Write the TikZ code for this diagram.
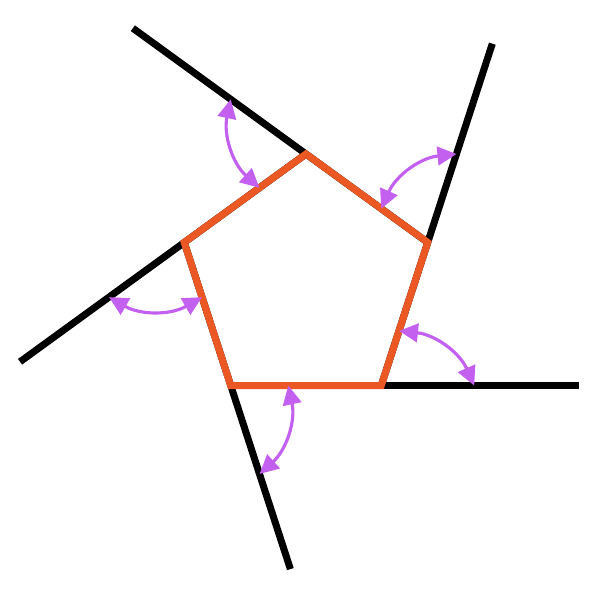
\documentclass[tikz,border=0pt]{standalone}
\usepackage{tikz}
\usetikzlibrary{calc,arrows.meta}
\definecolor{sideorange}{RGB}{236,88,36}
\definecolor{anglepurple}{RGB}{196,96,240}
\tikzstyle{extline} = [line width=4pt, black]
\tikzstyle{side} = [line width=4pt, sideorange, line join=miter]
\tikzstyle{extangle} = [line width=1.8pt, anglepurple, >={Triangle[length=3.8mm,width=3.7mm]}, <->, bend right=30]

\begin{document}
\begin{tikzpicture}
		\useasboundingbox (-6.12,-6.36) rectangle (5.88,5.64);
		\foreach \i in {0,...,4}
			\coordinate (v\i) at (162+72*\i:2.56);
		% sides carried on past each corner
		\foreach \i/\j/\len in {0/1/3.86,1/2/3.96,2/3/4.18,3/4/4.28,4/0/4.06} {
			\coordinate (e\j) at ($(v\j)!-\len cm!(v\i)$);
			\draw[extline] (v\i) -- (e\j);
		}
		\draw[side] (v0) -- (v1) -- (v2) -- (v3) -- (v4) -- cycle;
		% exterior angles
		\foreach \j/\k in {0/1,1/2,2/3,3/4,4/0} {
			\coordinate (a\j) at ($(v\j)!1.86cm!(e\j)$);
			\coordinate (b\j) at ($(v\j)!1.15cm!(v\k)$);
			\draw[extangle] (a\j) to (b\j);
		}
\end{tikzpicture}
\end{document}
